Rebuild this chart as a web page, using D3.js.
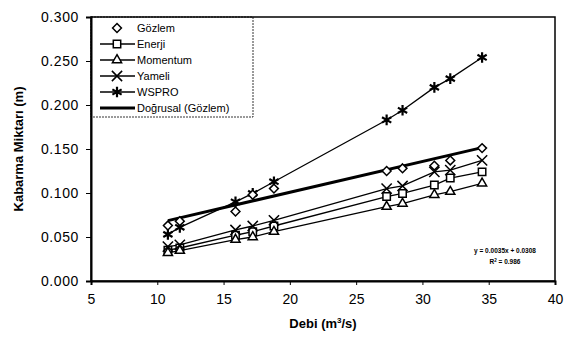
<!DOCTYPE html>
<html>
<head>
<meta charset="utf-8">
<script src="https://cdn.jsdelivr.net/npm/d3@7"></script>
<style>
  body { margin: 0; background: #fff; }
  text { font-family: "Liberation Sans", Arial, sans-serif; fill: #000; }
</style>
</head>
<body>
<div id="chart"></div>
<script>
// data
var debi = [10.8, 11.7, 15.9, 17.2, 18.8, 27.3, 28.5, 30.9, 32.1, 34.5];
var gozlem = [0.063, 0.068, 0.079, 0.098, 0.105, 0.125, 0.128, 0.131, 0.137, 0.151];
var enerji = [0.035, 0.0375, 0.052, 0.056, 0.0625, 0.096, 0.0995, 0.109, 0.117, 0.124];
var momentum = [0.032, 0.0345, 0.047, 0.050, 0.056, 0.0845, 0.088, 0.098, 0.1015, 0.111];
var yameli = [0.039, 0.041, 0.058, 0.0625, 0.069, 0.105, 0.108, 0.124, 0.126, 0.137];
var wspro = [0.053, 0.061, 0.090, 0.0996, 0.1128, 0.183, 0.194, 0.220, 0.230, 0.254];
var trendSlope = 0.0035;
var trendIntercept = 0.0308;
var trendR2 = "0.986";
var xTicks = [5, 10, 15, 20, 25, 30, 35, 40];
var yTicks = [0, 0.05, 0.1, 0.15, 0.2, 0.25, 0.3];

var width = 573;
var height = 345;
var margin = { left: 91, right: 18, top: 17, bottom: 64 };

var svg = d3.select("#chart").append("svg")
    .attr("width", width)
    .attr("height", height);

var x = d3.scaleLinear().domain([5, 40]).range([margin.left, width - margin.right]);
var y = d3.scaleLinear().domain([0, 0.3]).range([height - margin.bottom, margin.top]);

// series
var series = [
    { name: "Enerji", values: enerji, symbol: d3.symbolSquare2, size: 70, line: true },
    { name: "Momentum", values: momentum, symbol: d3.symbolTriangle2, size: 60, line: true },
    { name: "Yameli", values: yameli, symbol: d3.symbolX, size: 70, line: true },
    { name: "WSPRO", values: wspro, symbol: d3.symbolAsterisk, size: 80, line: true },
    { name: "Gözlem", values: gozlem, symbol: d3.symbolDiamond2, size: 50, line: false }
];

var line = d3.line()
    .x(function (d) { return x(d[0]); })
    .y(function (d) { return y(d[1]); });

series.forEach(function (s) {
    var pts = debi.map(function (d, i) { return [d, s.values[i]]; });
    if (s.line) {
        svg.append("path")
            .datum(pts)
            .attr("fill", "none")
            .attr("stroke", "#000")
            .attr("stroke-width", 1.3)
            .attr("d", line);
    }
});

// trend line of Gözlem
var trendPts = d3.extent(debi).map(function (d) { return [d, trendSlope * d + trendIntercept]; });
svg.append("path")
    .datum(trendPts)
    .attr("fill", "none")
    .attr("stroke", "#000")
    .attr("stroke-width", 3)
    .attr("d", line);

series.forEach(function (s) {
    var pts = debi.map(function (d, i) { return [d, s.values[i]]; });
    svg.append("g").selectAll("path")
        .data(pts)
        .join("path")
        .attr("transform", function (d) { return `translate(${x(d[0])}, ${y(d[1])})`; })
        .attr("d", d3.symbol().type(s.symbol).size(s.size))
        .attr("fill", s.symbol === d3.symbolX || s.symbol === d3.symbolAsterisk ? "none" : "#fff")
        .attr("stroke", "#000")
        .attr("stroke-width", s.symbol === d3.symbolAsterisk ? 2.2 : 1.5);
});

// trend equation
svg.append("text")
    .attr("x", 505).attr("y", 253)
    .attr("text-anchor", "middle")
    .style("font-size", "6.5px")
    .style("font-weight", "bold")
    .text("y = " + trendSlope + "x + " + trendIntercept);
var r2 = svg.append("text")
    .attr("x", 505).attr("y", 264)
    .attr("text-anchor", "middle")
    .style("font-size", "6.5px")
    .style("font-weight", "bold");
r2.append("tspan").text("R");
r2.append("tspan").attr("dy", -2).style("font-size", "4.5px").text("2");
r2.append("tspan").attr("dy", 2).text(" = " + trendR2);

// legend
var legendItems = [
    { name: "Gözlem", symbol: d3.symbolDiamond2, size: 50, line: 0 },
    { name: "Enerji", symbol: d3.symbolSquare2, size: 70, line: 1 },
    { name: "Momentum", symbol: d3.symbolTriangle2, size: 60, line: 1 },
    { name: "Yameli", symbol: d3.symbolX, size: 70, line: 1 },
    { name: "WSPRO", symbol: d3.symbolAsterisk, size: 80, line: 1 },
    { name: "Doğrusal (Gözlem)", symbol: null, size: 0, line: 3 }
];

var legend = svg.append("g");
legend.append("rect")
    .attr("x", x(5)).attr("y", y(0.3))
    .attr("width", 162).attr("height", 100)
    .attr("fill", "#fff").attr("stroke", "#000")
    .attr("stroke-width", 0.8).attr("stroke-dasharray", "2,1");

legendItems.forEach(function (item, i) {
    var ly = 28 + i * 16;
    if (item.line) {
        legend.append("line")
            .attr("x1", 100).attr("x2", 135)
            .attr("y1", ly).attr("y2", ly)
            .attr("stroke", "#000").attr("stroke-width", item.line === 3 ? 3 : 1.3);
    }
    if (item.symbol) {
        legend.append("path")
            .attr("transform", `translate(117, ${ly})`)
            .attr("d", d3.symbol().type(item.symbol).size(item.size))
            .attr("fill", item.symbol === d3.symbolX || item.symbol === d3.symbolAsterisk ? "none" : "#fff")
            .attr("stroke", "#000")
            .attr("stroke-width", item.symbol === d3.symbolAsterisk ? 2.2 : 1.5);
    }
    legend.append("text")
        .attr("x", 137).attr("y", ly + 4)
        .style("font-size", "11px")
        .text(item.name);
});

// plot frame and axes on top
svg.append("rect")
    .attr("x", x(5)).attr("y", y(0.3))
    .attr("width", x(40) - x(5)).attr("height", y(0) - y(0.3))
    .attr("fill", "none").attr("stroke", "#000").attr("stroke-width", 1.5);

var xAxis = svg.append("g")
    .attr("transform", `translate(0, ${y(0)})`)
    .call(d3.axisBottom(x).tickValues(xTicks).tickSize(4).tickPadding(9).tickFormat(d3.format("d")));
var yAxis = svg.append("g")
    .attr("transform", `translate(${x(5)}, 0)`)
    .call(d3.axisLeft(y).tickValues(yTicks).tickSize(5).tickPadding(7).tickFormat(d3.format(".3f")));

[xAxis, yAxis].forEach(function (g) {
    g.select(".domain").attr("stroke", "#000").attr("stroke-width", 2);
    g.selectAll(".tick line").attr("stroke", "#000");
    g.selectAll(".tick text")
        .style("font-size", "14px")
        .style("font-family", "'Liberation Sans', Arial, sans-serif");
});
yAxis.selectAll(".tick text").attr("letter-spacing", "0.6px");

// axis titles
svg.append("text")
    .attr("transform", `translate(23, ${(y(0) + y(0.3)) / 2}) rotate(-90)`)
    .attr("text-anchor", "middle")
    .style("font-size", "13px")
    .style("font-weight", "bold")
    .text("Kabarma Miktarı (m)");

var xt = svg.append("text")
    .attr("x", (x(5) + x(40)) / 2)
    .attr("y", 328)
    .attr("text-anchor", "middle")
    .style("font-size", "13px")
    .style("font-weight", "bold");
xt.append("tspan").text("Debi (m");
xt.append("tspan").attr("dy", -5).style("font-size", "8px").text("3");
xt.append("tspan").attr("dy", 5).text("/s)");
</script>
</body>
</html>
